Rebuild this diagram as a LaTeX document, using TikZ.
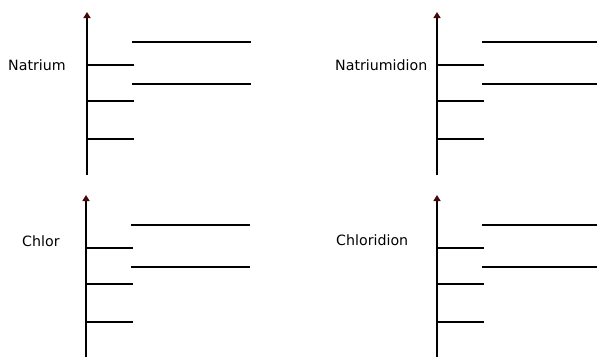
\documentclass[tikz,border=0pt]{standalone}
\usepackage{fontspec}
\setmainfont{DejaVu Sans}
\usetikzlibrary{arrows.meta}
\definecolor{tipred}{RGB}{70,8,8}
\tikzset{
  axisln/.style={draw=black, line width=1.6pt,
                 -{Triangle[length=6pt,width=7pt,color=tipred,fill=tipred]}},
  lvl/.style   ={draw=black, line width=1.3pt},
  lbl/.style   ={anchor=west, font=\fontsize{14.2}{17}\selectfont, inner sep=0pt},
}
\begin{document}
\begin{tikzpicture}[x=1pt,y=-1pt]
\useasboundingbox (0,0) rectangle (597,357);
% one energy diagram per element / ion
\foreach \ax/\ty/\by/\lx/\ly/\txt/\nm in {87/12/175/8/65/Natrium/na,
    437/12/175/335/65/Natriumidion/nai, 86/195/357/22/241/Chlor/cl,
    437/195/357/336/240/Chloridion/cli}{
  \coordinate (\nm-base) at (\ax,\by);
  \coordinate (\nm-tip) at (\ax,\ty);
  \draw[axisln] (\nm-base) -- (\nm-tip);
  \foreach \dy in {53,89,127} \draw[lvl] (\ax,\ty+\dy) -- (\ax+47,\ty+\dy);
  \foreach \dy in {30,72} \draw[lvl] (\ax+45,\ty+\dy) -- (\ax+164,\ty+\dy);
  \node[lbl] (\nm) at (\lx,\ly) {\txt};
}
\end{tikzpicture}
\end{document}
